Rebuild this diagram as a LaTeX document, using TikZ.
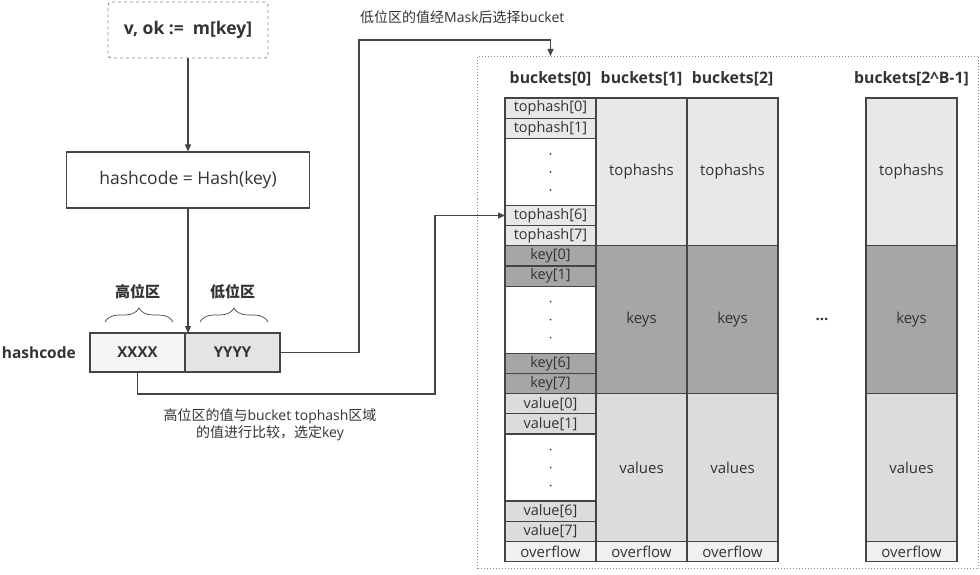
\documentclass[tikz,border=0pt]{standalone}
\usepackage{fontspec}
\setmainfont{Open Sans}
\newfontfamily\cjk{Noto Sans CJK SC}
\usepackage{tikz}
\usetikzlibrary{arrows.meta,positioning,calc,decorations.pathreplacing}
\definecolor{edge}{RGB}{68,68,68}
\definecolor{ink}{RGB}{51,51,51}
\definecolor{topgray}{RGB}{232,232,232}
\definecolor{keygray}{RGB}{168,165,165}
\definecolor{valgray}{RGB}{220,220,220}
\definecolor{flowgray}{RGB}{240,240,240}
\definecolor{hipart}{RGB}{245,245,245}
\definecolor{lopart}{RGB}{228,228,228}
\definecolor{framegray}{RGB}{140,140,140}

\begin{document}
\begin{tikzpicture}[
  x=1pt, y=-1pt,
  every node/.style={text=ink},
  cell/.style={draw=edge, line width=1.1pt, minimum width=91pt, minimum height=20.2pt,
    inner sep=0pt, outer sep=0pt, font=\fontsize{14.5}{17}\selectfont},
  topcell/.style={cell, fill=topgray},
  keycell/.style={cell, fill=keygray},
  valcell/.style={cell, fill=valgray},
  flowcell/.style={cell, fill=flowgray, font=\fontsize{15}{17}\selectfont},
  gapcell/.style={cell, fill=white, minimum height=67pt},
  bigcell/.style={cell, minimum height=147.8pt, font=\fontsize{15}{18}\selectfont},
  head/.style={inner sep=0pt, font=\fontsize{15.8}{18}\selectfont\bfseries},
  frame/.style={draw=framegray, dotted, line width=1pt, inner sep=0pt},
  query/.style={draw=framegray, dashed, line width=0.9pt, rounded corners=3pt,
    minimum width=160pt, minimum height=56pt, font=\fontsize{17.5}{20}\selectfont\bfseries},
  stepbox/.style={draw=edge, line width=1.1pt, minimum width=243pt, minimum height=56pt,
    font=\fontsize{17.5}{20}\selectfont},
  part/.style={draw=edge, line width=1.1pt, minimum width=95pt, minimum height=39pt,
    inner sep=0pt, outer sep=0pt, font=\fontsize{15}{18}\selectfont\bfseries},
  zone/.style={inner sep=0pt, font=\fontsize{15}{18}\selectfont\bfseries\cjk},
  note/.style={inner sep=0pt, font=\fontsize{14}{17}\selectfont},
  brace/.style={draw=edge, line width=0.7pt, decorate, decoration={brace, amplitude=14pt}},
  arrow/.style={draw=edge, line width=1.1pt, -{Triangle[length=7pt, width=6pt]}}
]
\useasboundingbox (0,0) rectangle (980,575);

% lookup and hash
\node[query] (lookup) at (188,30) {v, ok :=~ m[key]};
\node[stepbox] (hash) at (188,180) {hashcode = Hash(key)};
\node[part, fill=hipart] (xxxx) at (137.5,352.5) {XXXX};
\node[part, fill=lopart, right=0pt of xxxx] (yyyy) {YYYY};
\node[inner sep=0pt, font=\fontsize{15.5}{18}\selectfont\bfseries, left=14pt of xxxx] (hcode) {hashcode};

\draw[brace] ([xshift=15pt, yshift=11pt]xxxx.north west) -- ([xshift=-12pt, yshift=11pt]xxxx.north east);
\draw[brace] ([xshift=15pt, yshift=11pt]yyyy.north west) -- ([xshift=-12pt, yshift=11pt]yyyy.north east);
\node[zone, above=34pt of xxxx] (hizone) {高位区};
\node[zone, above=34pt of yyyy] (lozone) {低位区};

% buckets
\node[frame, anchor=north west, minimum width=501pt, minimum height=512pt] (frame) at (477,56) {};

\node[topcell, anchor=north west] (th0) at (505,98) {tophash[0]};
\node[topcell, below=0pt of th0] (th1) {tophash[1]};
\node[gapcell, below=0pt of th1] (thgap) {};
\node[topcell, below=0pt of thgap] (th6) {tophash[6]};
\node[topcell, below=0pt of th6] (th7) {tophash[7]};
\node[keycell, below=0pt of th7] (k0) {key[0]};
\node[keycell, below=0pt of k0] (k1) {key[1]};
\node[gapcell, below=0pt of k1] (kgap) {};
\node[keycell, below=0pt of kgap] (k6) {key[6]};
\node[keycell, below=0pt of k6] (k7) {key[7]};
\node[valcell, below=0pt of k7] (v0) {value[0]};
\node[valcell, below=0pt of v0] (v1) {value[1]};
\node[gapcell, below=0pt of v1] (vgap) {};
\node[valcell, below=0pt of vgap] (v6) {value[6]};
\node[valcell, below=0pt of v6] (v7) {value[7]};
\node[flowcell, below=0pt of v7] (of0) {overflow};
\foreach \g in {thgap,kgap,vgap}
  \foreach \d in {-18,0,18}
    \fill[edge] ([yshift=\d pt]\g.center) circle (1);

\node[bigcell, fill=topgray, anchor=north west] (ths1) at (596,98) {tophashs};
\node[bigcell, fill=keygray, below=0pt of ths1] (keys1) {keys};
\node[bigcell, fill=valgray, below=0pt of keys1] (vals1) {values};
\node[flowcell, below=0pt of vals1] (of1) {overflow};

\node[bigcell, fill=topgray, anchor=north west] (ths2) at (687,98) {tophashs};
\node[bigcell, fill=keygray, below=0pt of ths2] (keys2) {keys};
\node[bigcell, fill=valgray, below=0pt of keys2] (vals2) {values};
\node[flowcell, below=0pt of vals2] (of2) {overflow};

\node[bigcell, fill=topgray, anchor=north west] (ths3) at (866,98) {tophashs};
\node[bigcell, fill=keygray, below=0pt of ths3] (keys3) {keys};
\node[bigcell, fill=valgray, below=0pt of keys3] (vals3) {values};
\node[flowcell, below=0pt of vals3] (of3) {overflow};

\node[head, above=12pt of th0] (h0) {buckets[0]};
\node[head, above=12pt of ths1] (h1) {buckets[1]};
\node[head, above=12pt of ths2] (h2) {buckets[2]};
\node[head, above=12pt of ths3] (h3) {buckets[2\^{}B-1]};
\node[font=\fontsize{15}{18}\selectfont\bfseries] (more) at ($(keys2.east)!0.5!(keys3.west)$) {...};

% connectors
\coordinate (maskbend) at (359,40);
\coordinate (cmpbend) at (435,394);
\draw[arrow] (lookup) -- (hash);
\draw[arrow] (hash.south) -- (hash.south |- xxxx.north);
\draw[arrow] (yyyy.east) -| (maskbend) -| (h0.north |- frame.north);
\draw[arrow] (xxxx.south) |- (cmpbend) |- (th6.west);

\node[note, above right=16pt and 1pt of maskbend] (masknote) {{\cjk 低位区的值经}Mask{\cjk 后选择}bucket};
\node[note, align=center] (cmpnote) at (270,425) {{\cjk 高位区的值与}bucket tophash{\cjk 区域}\\{\cjk 的值进行比较，选定}key};
\end{tikzpicture}
\end{document}
